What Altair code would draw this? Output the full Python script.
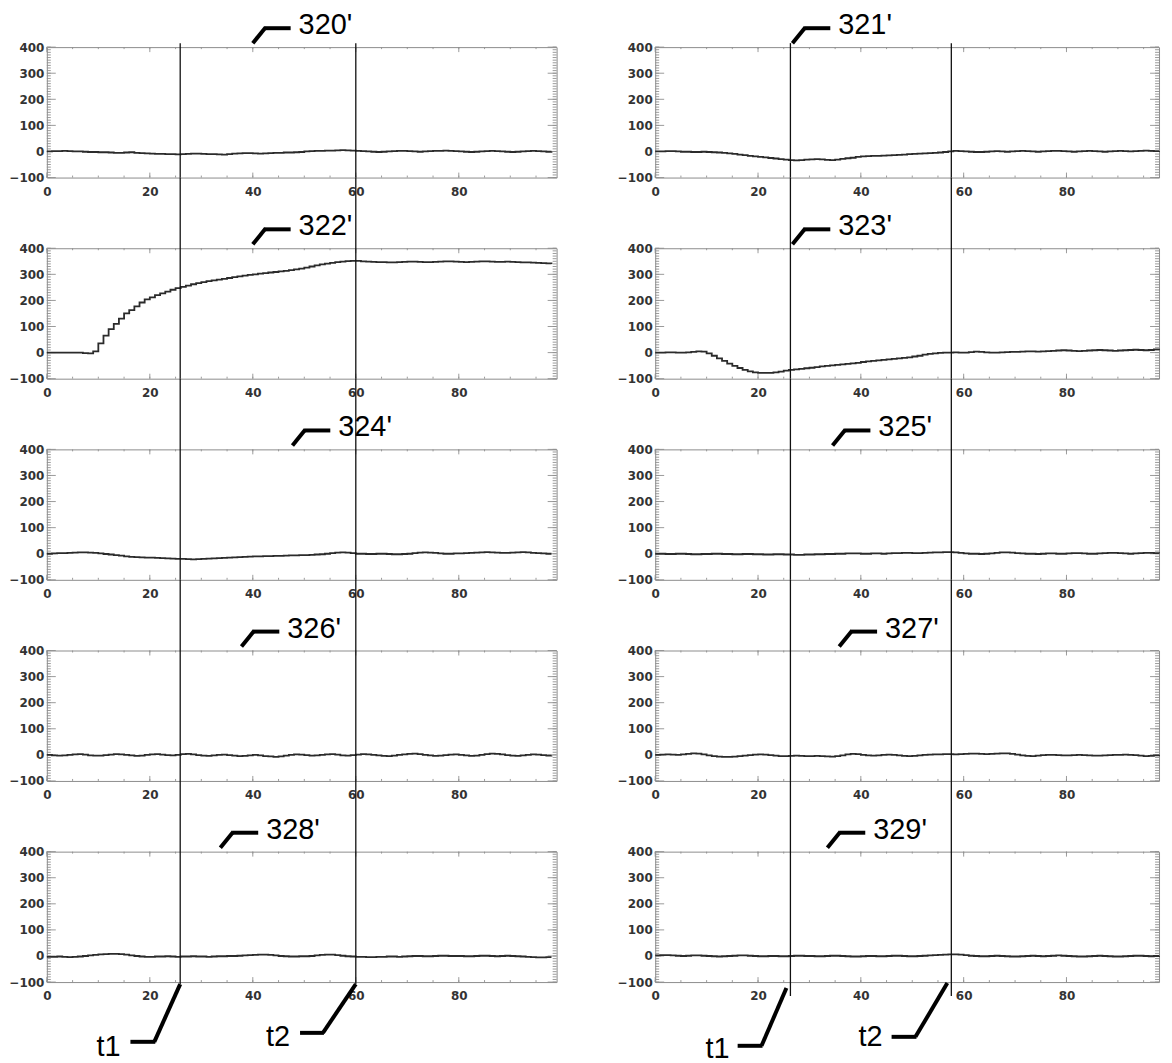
import altair as alt
import pandas as pd

# ---------------- data ----------------
X = list(range(99))

S320 = [0, 1, 1, 2, 1, 0, 0, -1, -2, -2,
        -3, -3, -4, -5, -5, -4, -3, -5, -6, -7,
        -8, -9, -9, -10, -10, -11, -10, -9, -8, -8,
        -9, -10, -10, -11, -12, -10, -8, -7, -6, -6,
        -7, -8, -7, -6, -5, -5, -4, -4, -3, -2,
        0, 1, 2, 2, 3, 3, 4, 5, 4, 3,
        2, 1, 0, -1, -2, -1, 0, 1, 2, 2,
        1, 0, -1, 0, 1, 2, 2, 3, 2, 1,
        0, -1, -2, -1, 0, 1, 2, 1, 0, -1,
        -2, -1, 0, 1, 2, 1, 0, -1, 0]
S321 = [0, 0, 1, 1, 0, -1, -1, -2, -2, -1,
        -2, -3, -4, -5, -7, -9, -12, -14, -17, -19,
        -21, -23, -25, -27, -29, -31, -33, -34, -33, -31,
        -30, -29, -30, -32, -33, -31, -28, -26, -24, -21,
        -19, -18, -17, -17, -16, -15, -14, -13, -12, -10,
        -9, -8, -7, -6, -5, -4, -2, 0, 2, 1,
        0, -1, -2, -2, -1, 0, 1, 0, -1, 0,
        1, 2, 1, 0, -1, 0, 1, 2, 2, 1,
        0, -1, 0, 1, 2, 1, 0, -1, 0, 1,
        2, 1, 0, 1, 2, 3, 2, 1, 2]
S322 = [0, 0, 0, 0, 0, 0, 0, -2, -3, 5,
        35, 65, 90, 110, 130, 150, 163, 177, 192, 204,
        212, 220, 227, 234, 241, 247, 252, 257, 262, 266,
        270, 274, 277, 280, 283, 286, 289, 292, 295, 298,
        300, 303, 305, 307, 309, 311, 313, 316, 319, 322,
        326, 330, 334, 338, 341, 344, 347, 349, 351, 352,
        352, 350, 349, 348, 347, 347, 346, 346, 347, 348,
        349, 349, 348, 347, 347, 348, 349, 350, 350, 349,
        348, 347, 348, 349, 350, 350, 349, 348, 348, 349,
        348, 347, 346, 346, 345, 344, 343, 342, 340]
S323 = [0, 0, 1, 1, 0, 0, 1, 3, 5, 4,
        -3, -12, -22, -32, -42, -51, -59, -66, -72, -76,
        -78, -78, -78, -76, -73, -69, -66, -64, -62, -60,
        -58, -56, -53, -51, -49, -47, -45, -43, -41, -39,
        -36, -34, -32, -30, -28, -26, -24, -22, -20, -18,
        -15, -12, -8, -5, -3, -1, 0, 0, 1, 0,
        0, 2, 4, 3, 1, 0, 0, 1, 2, 3,
        3, 4, 5, 5, 4, 5, 6, 7, 8, 9,
        8, 7, 6, 7, 8, 9, 10, 9, 8, 7,
        8, 9, 10, 11, 10, 9, 10, 12, 15]
S324 = [0, 1, 2, 2, 3, 4, 5, 5, 4, 3,
        1, -1, -3, -5, -7, -10, -12, -13, -14, -15,
        -15, -16, -17, -18, -19, -20, -20, -21, -22, -21,
        -20, -19, -18, -17, -16, -15, -14, -13, -12, -11,
        -10, -10, -9, -9, -8, -8, -7, -6, -6, -5,
        -5, -4, -3, -2, 0, 2, 4, 5, 4, 2,
        0, 0, -1, -1, 0, 0, -1, -2, -2, -1,
        0, 2, 4, 5, 4, 3, 1, 0, 0, 1,
        1, 2, 3, 4, 5, 6, 5, 4, 3, 3,
        4, 5, 6, 5, 3, 2, 1, 0, 0]
S325 = [0, 0, -1, -1, 0, 0, -1, -2, -2, -1,
        -1, 0, 0, -1, -1, -2, -2, -1, -1, -2,
        -2, -3, -3, -2, -2, -3, -3, -4, -4, -3,
        -3, -2, -2, -1, -1, 0, 0, 1, 1, 1,
        0, 0, 1, 1, 0, 1, 2, 2, 3, 3,
        2, 2, 3, 4, 5, 5, 6, 6, 5, 3,
        1, 0, 0, -1, 0, 1, 3, 5, 5, 4,
        2, 1, 0, 0, -1, 0, 1, 1, 0, 0,
        1, 2, 2, 1, 0, 0, 1, 2, 3, 3,
        2, 1, 0, 1, 2, 3, 3, 2, 1]
S326 = [0, -2, -3, -2, 0, 2, 3, 1, -2, -3,
        -3, -1, 1, 3, 2, 0, -2, -4, -3, 0,
        2, 3, 1, -1, -2, 0, 3, 4, 2, -1,
        -3, -4, -2, 0, 1, -1, -3, -5, -4, -2,
        0, -2, -5, -6, -8, -6, -3, 0, 2, 1,
        -1, -3, -2, 0, 2, 3, 1, -2, -3, -1,
        1, 3, 2, 0, -2, -4, -5, -3, 0, 2,
        4, 5, 3, 0, -2, -4, -3, -1, 1, 2,
        0, -2, -4, -3, 0, 3, 5, 4, 2, -1,
        -3, -4, -2, 0, 2, 1, -1, -3, -2]
S327 = [0, 1, 2, 1, 0, 2, 4, 6, 5, 2,
        -2, -5, -7, -8, -8, -7, -5, -3, -1, 1,
        2, 1, -1, -3, -5, -5, -4, -3, -4, -5,
        -5, -4, -5, -6, -7, -5, -2, 2, 4, 3,
        0, -2, -3, -2, 0, 1, 0, -2, -4, -5,
        -4, -2, 0, 1, 2, 2, 3, 3, 2, 3,
        4, 5, 5, 4, 3, 4, 5, 6, 6, 4,
        1, -2, -4, -5, -3, -1, 0, 0, -1, -2,
        -2, -1, 0, -1, -2, -3, -3, -2, -1, 0,
        0, 1, 0, -1, -3, -5, -4, -2, 0]
S328 = [-3, -3, -2, -3, -4, -3, -2, 0, 2, 4,
        6, 7, 8, 8, 7, 5, 2, 0, -2, -3,
        -3, -2, -2, -1, -2, -3, -2, -2, -1, -2,
        -2, -3, -2, -1, -1, 0, 0, 1, 2, 3,
        4, 5, 5, 4, 2, 0, -1, -2, -2, -1,
        -1, 0, 2, 4, 5, 5, 3, 1, -1, -2,
        -3, -3, -4, -4, -3, -3, -2, -2, -3, -2,
        -1, 0, 0, -1, -1, 0, 1, 1, 0, 0,
        0, -1, -1, 0, 1, 1, 0, -1, 0, 1,
        0, -1, -2, -3, -4, -5, -5, -4, -4]
S329 = [2, 3, 3, 2, 1, 0, 1, 2, 2, 1,
        0, -1, -2, -1, 0, 1, 2, 2, 1, 0,
        -1, -1, 0, 0, -1, -1, 0, 1, 1, 0,
        0, -1, -1, 0, 1, 1, 0, -1, -2, -2,
        -1, 0, 0, -1, -1, 0, 1, 1, 0, -1,
        -1, 0, 1, 2, 3, 4, 5, 6, 6, 5,
        3, 1, 0, -1, -1, 0, 1, 0, -1, -2,
        -2, -1, 0, 1, 0, -1, 0, 1, 2, 1,
        0, -1, -2, -2, -1, 0, 1, 0, -1, -2,
        -2, -1, 0, 1, 1, 0, -1, 0, 1]

SERIES = [S320, S321, S322, S323, S324, S325, S326, S327, S328, S329]
PANEL_LABELS = ["320'", "321'", "322'", "323'", "324'",
                "325'", "326'", "327'", "328'", "329'"]
LEADER_X = [40, 26.7, 40, 26.7, 47.7, 34.5, 37.8, 35.8, 33.7, 33.5]

T_MARKS = {0: [25.9, 60.0], 1: [26.3, 57.6]}   # t1, t2 per column
T_LABELS = ["t1", "t2"]

X_TICKS = [0, 20, 40, 60, 80]
Y_TICKS = [-100, 0, 100, 200, 300, 400]
Y_MINOR = list(range(-100, 401, 10))
X_MINOR = list(range(0, 100, 5))
XMAX = {0: 99, 1: 98}

# ---------------- layout / style ----------------
H = 131
WIDTH = {0: 512, 1: 506}
VGAP = 71
HGAP = 99
FRAME = "#8c8c8c"
TICKC = "#8f8f8f"
LABEL_FONT = "Liberation Sans"

# bottom-leader geometry (pixels, relative to the t position / panel bottom)
BOTTOM_LEADERS = {
    (0, 0): dict(d0=(0, 2), d1=(-26, 60), h1=-50, tx=-60, ty=74),
    (0, 1): dict(d0=(0, 2), d1=(-33, 51), h1=-56, tx=-66, ty=64),
    (1, 0): dict(d0=(-4, 6), d1=(-29, 64), h1=-53, tx=-61, ty=76),
    (1, 1): dict(d0=(-4, 1), d1=(-36, 55), h1=-60, tx=-69, ty=64),
}


def panel(i):
    row, col = divmod(i, 2)
    W = WIDTH[col]
    xs = alt.Scale(domain=[0, XMAX[col]], nice=False, zero=False)
    ys = alt.Scale(domain=[-100, 400], nice=False, zero=False)
    xaxis = alt.Axis(values=X_TICKS, title=None, ticks=False, tickSize=0,
                     domain=False, grid=False, labelFlush=False,
                     labelPadding=9, labelFont="DejaVu Sans",
                     labelFontWeight="bold", labelFontSize=12,
                     labelColor="#333333")
    yaxis = alt.Axis(values=Y_TICKS, title=None, ticks=False, tickSize=0,
                     domain=False, grid=False, labelPadding=3,
                     labelFont="DejaVu Sans", labelFontWeight="bold",
                     labelFontSize=12, labelColor="#333333")

    def X_(f):
        return alt.X(f, scale=xs, axis=xaxis)

    def Y_(f):
        return alt.Y(f, scale=ys, axis=yaxis)

    df = pd.DataFrame({"x": X, "y": SERIES[i]})
    layers = []

    # inner tick marks
    ymin = pd.DataFrame({"v": Y_MINOR})
    ymaj = pd.DataFrame({"v": Y_TICKS})
    xmin = pd.DataFrame({"v": X_MINOR})
    xmaj = pd.DataFrame({"v": X_TICKS})
    for data, ln in ((ymin, 4), (ymaj, 9)):
        layers.append(alt.Chart(data).mark_rule(color=TICKC, strokeWidth=0.9).encode(
            y=Y_("v:Q"), x=alt.value(0), x2=alt.value(ln)))
        layers.append(alt.Chart(data).mark_rule(color=TICKC, strokeWidth=0.9).encode(
            y=Y_("v:Q"), x=alt.value(W), x2=alt.value(W - ln)))
    for data, ln in ((xmin, 2), (xmaj, 5)):
        layers.append(alt.Chart(data).mark_rule(color=TICKC, strokeWidth=0.9).encode(
            x=X_("v:Q"), y=alt.value(H), y2=alt.value(H - ln)))
        layers.append(alt.Chart(data).mark_rule(color=TICKC, strokeWidth=0.9).encode(
            x=X_("v:Q"), y=alt.value(0), y2=alt.value(ln)))

    # the trace
    layers.append(alt.Chart(df).mark_line(interpolate="step-after", color="#2b2b2b",
                                          strokeWidth=1.8).encode(
        x=X_("x:Q"), y=Y_("y:Q")))

    # t1 / t2 vertical lines
    top = -4 if row == 0 else -VGAP
    if row < 4:
        bottom = H
    else:
        bottom = H + 2 if col == 0 else H + 14
    tdf = pd.DataFrame({"t": T_MARKS[col]})
    layers.append(alt.Chart(tdf).mark_rule(color="#111111", strokeWidth=1.3).encode(
        x=X_("t:Q"), y=alt.value(top), y2=alt.value(bottom)))

    # panel label with leader
    ldf = pd.DataFrame({"a": [LEADER_X[i]], "lab": [PANEL_LABELS[i]]})
    layers.append(alt.Chart(ldf).mark_rule(color="black", strokeWidth=4,
                                           x2Offset=13).encode(
        x=X_("a:Q"), x2=alt.X2("a:Q"), y=alt.value(-4), y2=alt.value(-20)))
    layers.append(alt.Chart(ldf).mark_rule(color="black", strokeWidth=4,
                                           xOffset=12, x2Offset=38).encode(
        x=X_("a:Q"), x2=alt.X2("a:Q"), y=alt.value(-19)))
    layers.append(alt.Chart(ldf).mark_text(align="left", baseline="alphabetic",
                                           dx=46, fontSize=29, font=LABEL_FONT,
                                           color="black").encode(
        x=X_("a:Q"), y=alt.value(-13), text="lab:N"))

    # bottom leaders for t1 / t2
    if row == 4:
        for k, tval in enumerate(T_MARKS[col]):
            g = BOTTOM_LEADERS[(col, k)]
            bdf = pd.DataFrame({"a": [tval], "lab": [T_LABELS[k]]})
            layers.append(alt.Chart(bdf).mark_rule(
                color="black", strokeWidth=4, xOffset=g["d0"][0],
                x2Offset=g["d1"][0]).encode(
                x=X_("a:Q"), x2=alt.X2("a:Q"),
                y=alt.value(H + g["d0"][1]), y2=alt.value(H + g["d1"][1])))
            layers.append(alt.Chart(bdf).mark_rule(
                color="black", strokeWidth=4, xOffset=g["d1"][0] + 1,
                x2Offset=g["h1"]).encode(
                x=X_("a:Q"), x2=alt.X2("a:Q"), y=alt.value(H + g["d1"][1])))
            layers.append(alt.Chart(bdf).mark_text(
                align="right", baseline="alphabetic", dx=g["tx"], fontSize=29,
                font=LABEL_FONT, color="black").encode(
                x=X_("a:Q"), y=alt.value(H + g["ty"]), text="lab:N"))

    return alt.layer(*layers).properties(width=W, height=H)


chart = alt.ConcatChart(
    concat=[panel(i) for i in range(10)],
    columns=2,
    spacing={"row": VGAP, "column": HGAP},
    bounds="flush",
).properties(
    padding={"left": 0, "top": 0, "right": 0, "bottom": 0},
    background="white",
).configure_view(stroke=FRAME, strokeWidth=1)

chart.save("out.html", embed_options={"renderer": "svg", "actions": False})
